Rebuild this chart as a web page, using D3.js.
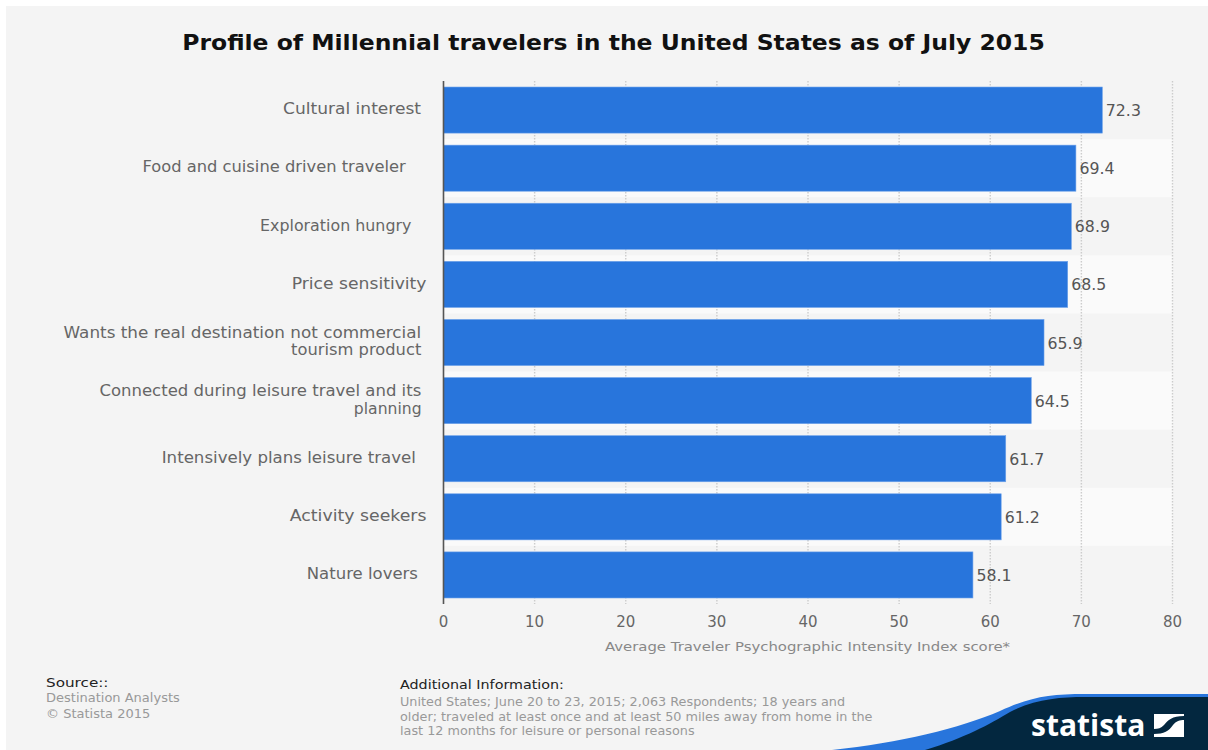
<!DOCTYPE html>
<html>
<head>
<meta charset="utf-8">
<script src="https://cdn.jsdelivr.net/npm/d3@7"></script>
<style>
html,body{margin:0;padding:0;background:#fff;}
svg{display:block;font-family:"DejaVu Sans",sans-serif;}
text{white-space:pre;}
</style>
</head>
<body>
<script>
// Survey categories, top to bottom. Trailing spaces pad the label away from the axis.
const categories = [
  ["Cultural interest "],
  ["Food and cuisine driven traveler    "],
  ["Exploration hungry   "],
  ["Price sensitivity"],
  ["Wants the real destination not commercial ", "tourism product "],
  ["Connected during leisure travel and its ", "planning "],
  ["Intensively plans leisure travel  "],
  ["Activity seekers"],
  ["Nature lovers \u2009"]
];
const scores = [72.3, 69.4, 68.9, 68.5, 65.9, 64.5, 61.7, 61.2, 58.1];
const xTicks = [0, 10, 20, 30, 40, 50, 60, 70, 80];

// Horizontal glyph widening for each category line, in reading order
const labelWidening = [1.137, 1.087, 1.057, 1.145, 1.12, 1.087, 1.10, 1.04, 1.107, 1.154, 1.10];

const chartTitle = "Profile of Millennial travelers in the United States as of July 2015";
const xAxisTitle = "Average Traveler Psychographic Intensity Index score*";
const sourceLines = ["Destination Analysts", "© Statista 2015"];
const infoLines = [
  "United States; June 20 to 23, 2015; 2,063 Respondents; 18 years and",
  "older; traveled at least once and at least 50 miles away from home in the",
  "last 12 months for leisure or personal reasons"
];

const width = 1208, height = 750;
const plot = {left: 443.5, right: 1172.5, top: 81, bottom: 604};

const svg = d3.select("body").append("svg")
  .attr("width", width).attr("height", height);

// Widen glyphs horizontally while keeping their height
function widen(sel, factor) {
  sel.each(function (d, i) {
    const f = typeof factor === "function" ? factor(d, i) : factor;
    const len = this.getComputedTextLength();
    d3.select(this).attr("textLength", len * f).attr("lengthAdjust", "spacingAndGlyphs");
  });
  return sel;
}

// Grey page panel with a thin white margin at top and left
svg.append("rect").attr("x", 6).attr("y", 6)
  .attr("width", width - 6).attr("height", height - 6).attr("fill", "#f4f4f4");

const x = d3.scaleLinear().domain([0, 80]).range([plot.left, plot.right]);
const band = d3.scaleBand().domain(d3.range(scores.length)).range([plot.top, plot.bottom]);
const y = d3.scaleBand().domain(d3.range(scores.length)).range([plot.top, plot.bottom]).paddingInner(0.207).paddingOuter(0.1035);

// Alternating row stripes
svg.append("g").selectAll("rect")
  .data(d3.range(scores.length).filter(i => i % 2 === 1))
  .join("rect")
  .attr("x", plot.left).attr("y", i => band(i))
  .attr("width", x(80) - plot.left).attr("height", band.bandwidth())
  .attr("fill", "#fafafa");

// Dotted vertical grid
svg.append("g").selectAll("line")
  .data(xTicks.slice(1))
  .join("line")
  .attr("x1", d => x(d)).attr("x2", d => x(d))
  .attr("y1", plot.top).attr("y2", plot.bottom)
  .attr("stroke", "#cccccc").attr("stroke-width", 1.4).attr("stroke-dasharray", "1.5,1.5");

// Bars
svg.append("g").selectAll("rect")
  .data(scores)
  .join("rect")
  .attr("x", plot.left).attr("y", (d, i) => y(i))
  .attr("width", d => x(d) - plot.left).attr("height", y.bandwidth())
  .attr("fill", "#2875dc").attr("stroke", "#6ea2ea").attr("stroke-width", 0.6);

// Value labels
widen(svg.append("g").selectAll("text")
  .data(scores)
  .join("text")
  .attr("x", d => x(d) + 3.5).attr("y", (d, i) => band(i) + band.bandwidth() / 2 + 6)
  .attr("font-size", 15).attr("fill", "#555")
  .text(d => d.toFixed(1)), 1.05);

// Baseline
svg.append("line")
  .attr("x1", plot.left).attr("x2", plot.left)
  .attr("y1", plot.top).attr("y2", plot.bottom)
  .attr("stroke", "#555").attr("stroke-width", 1.6);

// Category labels, one or two lines each
const labelLines = categories.flatMap((lines, i) =>
  lines.map((t, k) => ({t, k, n: lines.length, i})));
widen(svg.append("g").selectAll("text")
  .data(labelLines)
  .join("text")
  .attr("text-anchor", "end").attr("font-size", 15).attr("fill", "#666")
  .attr("xml:space", "preserve")
  .attr("x", 426.5)
  .attr("y", d => band(d.i) + band.bandwidth() / 2 + 4.3 + (d.k - (d.n - 1) / 2) * 17.2)
  .text(d => d.t), (d, i) => labelWidening[i]);

// Tick labels on the value axis
svg.append("g").selectAll("text")
  .data(xTicks)
  .join("text")
  .attr("x", d => x(d)).attr("y", 627)
  .attr("text-anchor", "middle").attr("font-size", 15).attr("fill", "#666")
  .text(d => d);

widen(svg.append("text")
  .attr("x", 807.5).attr("y", 651)
  .attr("text-anchor", "middle").attr("font-size", 12.5).attr("fill", "#888")
  .text(xAxisTitle), 1.19);

widen(svg.append("text")
  .attr("x", 613.5).attr("y", 50)
  .attr("text-anchor", "middle").attr("font-size", 21).attr("font-weight", "bold").attr("fill", "#111")
  .text(chartTitle), 1.118);

// Footer: source
widen(svg.append("text").attr("x", 46).attr("y", 687)
  .attr("font-size", 13).attr("fill", "#222").text("Source::"), 1.17);
svg.append("g").selectAll("text").data(sourceLines).join("text")
  .attr("x", 46).attr("y", (d, i) => 702 + i * 15.5)
  .attr("font-size", 13).attr("fill", "#999")
  .text(d => d);

// Footer: additional information
widen(svg.append("text").attr("x", 400).attr("y", 689)
  .attr("font-size", 13).attr("fill", "#222").text("Additional Information:"), 1.1);
svg.append("g").selectAll("text").data(infoLines).join("text")
  .attr("x", 400).attr("y", (d, i) => 706 + i * 14.5)
  .attr("font-size", 12.8).attr("fill", "#999")
  .text(d => d);

// Brand swoosh in the lower right corner
svg.append("path").attr("fill", "#2875dc")
  .attr("d", "M832,750 C900,743 960,728 1000,711 C1030,697 1050,694 1085,694 L1208,694 L1208,750 Z");
svg.append("path").attr("fill", "#03273f")
  .attr("d", "M925,750 C965,738 990,724 1010,712 C1035,699 1060,697 1085,697 L1208,697 L1208,750 Z");
svg.append("text").attr("x", 1031).attr("y", 736)
  .attr("font-size", 30).attr("font-weight", "bold").attr("fill", "#fff")
  .attr("font-family", "'Open Sans',sans-serif").text("statista");
// Square brand mark with a wave cut through it
svg.append("path").attr("fill", "#fff")
  .attr("d", "M1154,714 H1184 L1184,716 C1172,716 1168,720 1164,725 C1161,728 1158,729 1154,729 Z");
svg.append("path").attr("fill", "#fff")
  .attr("d", "M1184,737 H1154 L1154,734 C1164,734 1169,731 1173,725 C1176,721 1180,720 1184,720 Z");
</script>
</body>
</html>
